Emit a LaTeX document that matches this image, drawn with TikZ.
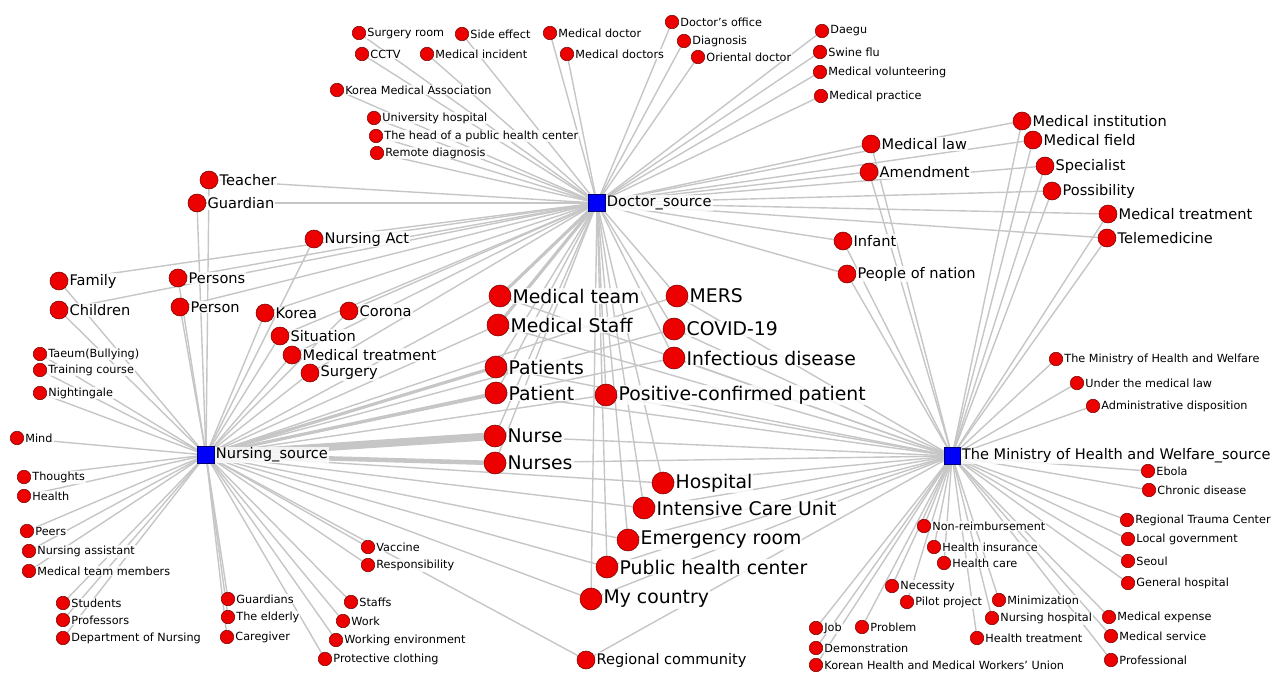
\documentclass[tikz,border=0pt]{standalone}
\usepackage{fontspec}
\setmainfont{DejaVu Sans}
\usetikzlibrary{backgrounds}
\definecolor{nodered}{RGB}{236,0,0}
\definecolor{srcblue}{RGB}{0,0,248}
\definecolor{edgegray}{RGB}{198,198,198}

\begin{document}
\begin{tikzpicture}[x=0.02cm,y=-0.02cm,label distance=0pt,
  src/.style={rectangle,draw=srcblue!45!black,fill=srcblue,minimum size=0.33cm,
    inner sep=0pt,line width=.3pt},
  wsmall/.style={circle,draw=nodered!50!black,fill=nodered,minimum size=0.27cm,
    inner sep=0pt,line width=.3pt},
  wmid/.style={wsmall,minimum size=0.36cm},
  wbig/.style={wsmall,minimum size=0.44cm},
  lsmall/.style={font=\fontsize{6.4}{7}\selectfont,inner sep=.6pt,fill=white,
    fill opacity=.8,text opacity=1},
  lmid/.style={lsmall,font=\fontsize{8.3}{9.5}\selectfont},
  lbig/.style={lsmall,font=\fontsize{10.7}{12}\selectfont},
  link/.style={draw=edgegray,line width=.8pt}]
\useasboundingbox (0,0) rectangle (1273,672);

% sources
\node[src,label={[lmid]right:Doctor\_source}] (doc) at (597,203) {};
\node[src,label={[lmid]right:Nursing\_source}] (nur) at (206,455) {};
\node[src,label={[lmid]right:The Ministry of Health and Welfare\_source}] (mohw) at (952,456) {};

% words around Doctor_source
\node[wsmall,label={[lsmall]right:Surgery room}] (surgroom) at (359,33) {};
\node[wsmall,label={[lsmall]right:Side effect}] (sideeff) at (462,34) {};
\node[wsmall,label={[lsmall]right:Medical doctor}] (meddoc) at (550,33) {};
\node[wsmall,label={[lsmall]right:CCTV}] (cctv) at (362,54) {};
\node[wsmall,label={[lsmall]right:Medical incident}] (medinc) at (427,54) {};
\node[wsmall,label={[lsmall]right:Medical doctors}] (meddocs) at (567,54) {};
\node[wsmall,label={[lsmall]right:Doctor's office}] (docoffice) at (672,22) {};
\node[wsmall,label={[lsmall]right:Diagnosis}] (diagnosis) at (684,41) {};
\node[wsmall,label={[lsmall]right:Oriental doctor}] (oriental) at (698,57) {};
\node[wsmall,label={[lsmall]right:Daegu}] (daegu) at (822,31) {};
\node[wsmall,label={[lsmall]right:Swine flu}] (swineflu) at (820,52) {};
\node[wsmall,label={[lsmall]right:Medical volunteering}] (medvol) at (820,72) {};
\node[wsmall,label={[lsmall]right:Medical practice}] (medprac) at (821,96) {};
\node[wsmall,label={[lsmall]right:Korea Medical Association}] (kma) at (337,90) {};
\node[wsmall,label={[lsmall]right:University hospital}] (univhosp) at (374,118) {};
\node[wsmall,label={[lsmall]right:The head of a public health center}] (headphc) at (376,136) {};
\node[wsmall,label={[lsmall]right:Remote diagnosis}] (remdiag) at (377,153) {};

% shared by Doctor_source and the Ministry
\node[wmid,label={[lmid]right:Medical law}] (medlaw) at (871,144) {};
\node[wmid,label={[lmid]right:Amendment}] (amend) at (869,172) {};
\node[wmid,label={[lmid]right:Medical institution}] (medinst) at (1022,121) {};
\node[wmid,label={[lmid]right:Medical field}] (medfield) at (1033,140) {};
\node[wmid,label={[lmid]right:Specialist}] (specialist) at (1045,166) {};
\node[wmid,label={[lmid]right:Possibility}] (possib) at (1052,191) {};
\node[wmid,label={[lmid]right:Medical treatment}] (medtreatr) at (1108,214) {};
\node[wmid,label={[lmid]right:Telemedicine}] (telemed) at (1107,238) {};
\node[wmid,label={[lmid]right:Infant}] (infant) at (843,241) {};
\node[wmid,label={[lmid]right:People of nation}] (people) at (847,274) {};

% shared by Doctor_source and Nursing_source
\node[wmid,label={[lmid]right:Teacher}] (teacher) at (209,180) {};
\node[wmid,label={[lmid]right:Guardian}] (guardian) at (197,203) {};
\node[wmid,label={[lmid]right:Nursing Act}] (nursact) at (314,239) {};
\node[wmid,label={[lmid]right:Family}] (family) at (59,281) {};
\node[wmid,label={[lmid]right:Children}] (children) at (59,310) {};
\node[wmid,label={[lmid]right:Persons}] (persons) at (178,278) {};
\node[wmid,label={[lmid]right:Person}] (person) at (180,307) {};
\node[wmid,label={[lmid]right:Korea}] (korea) at (265,313) {};
\node[wmid,label={[lmid]right:Corona}] (corona) at (349,311) {};
\node[wmid,label={[lmid]right:Situation}] (situation) at (280,336) {};
\node[wmid,label={[lmid]right:Medical treatment}] (medtreatl) at (292,355) {};
\node[wmid,label={[lmid]right:Surgery}] (surgery) at (310,373) {};

% shared by all three
\node[wbig,label={[lbig]right:Medical team}] (medteam) at (500,296) {};
\node[wbig,label={[lbig]right:Medical Staff}] (medstaff) at (498,325) {};
\node[wbig,label={[lbig]right:Patients}] (patients) at (496,367) {};
\node[wbig,label={[lbig]right:Patient}] (patient) at (496,393) {};
\node[wbig,label={[lbig]right:Nurse}] (nurse) at (495,436) {};
\node[wbig,label={[lbig]right:Nurses}] (nurses) at (495,463) {};
\node[wbig,label={[lbig]right:MERS}] (mers) at (677,296) {};
\node[wbig,label={[lbig]right:COVID-19}] (covid) at (674,329) {};
\node[wbig,label={[lbig]right:Infectious disease}] (infect) at (674,358) {};
\node[wbig,label={[lbig]right:Positive-confirmed patient}] (positive) at (606,395) {};
\node[wbig,label={[lbig]right:Hospital}] (hospital) at (663,483) {};
\node[wbig,label={[lbig]right:Intensive Care Unit}] (icu) at (644,508) {};
\node[wbig,label={[lbig]right:Emergency room}] (er) at (628,540) {};
\node[wbig,label={[lbig]right:Public health center}] (phc) at (607,567) {};
\node[wbig,label={[lbig]right:My country}] (country) at (591,599) {};
\node[wmid,label={[lmid]right:Regional community}] (regional) at (586,660) {};

% words around Nursing_source
\node[wsmall,label={[lsmall]right:Taeum(Bullying)}] (taeum) at (40,354) {};
\node[wsmall,label={[lsmall]right:Training course}] (training) at (40,370) {};
\node[wsmall,label={[lsmall]right:Nightingale}] (nightingale) at (40,393) {};
\node[wsmall,label={[lsmall]right:Mind}] (mind) at (17,438) {};
\node[wsmall,label={[lsmall]right:Thoughts}] (thoughts) at (24,477) {};
\node[wsmall,label={[lsmall]right:Health}] (health) at (24,496) {};
\node[wsmall,label={[lsmall]right:Peers}] (peers) at (27,531) {};
\node[wsmall,label={[lsmall]right:Nursing assistant}] (nursassist) at (29,551) {};
\node[wsmall,label={[lsmall]right:Medical team members}] (medteammem) at (29,571) {};
\node[wsmall,label={[lsmall]right:Students}] (students) at (63,603) {};
\node[wsmall,label={[lsmall]right:Professors}] (professors) at (63,620) {};
\node[wsmall,label={[lsmall]right:Department of Nursing}] (deptnurs) at (63,638) {};
\node[wsmall,label={[lsmall]right:Guardians}] (guardians) at (228,599) {};
\node[wsmall,label={[lsmall]right:The elderly}] (elderly) at (228,617) {};
\node[wsmall,label={[lsmall]right:Caregiver}] (caregiver) at (227,637) {};
\node[wsmall,label={[lsmall]right:Vaccine}] (vaccine) at (368,547) {};
\node[wsmall,label={[lsmall]right:Responsibility}] (respons) at (368,565) {};
\node[wsmall,label={[lsmall]right:Staffs}] (staffs) at (351,602) {};
\node[wsmall,label={[lsmall]right:Work}] (work) at (343,621) {};
\node[wsmall,label={[lsmall]right:Working environment}] (workenv) at (336,640) {};
\node[wsmall,label={[lsmall]right:Protective clothing}] (protect) at (325,659) {};

% words around the Ministry
\node[wsmall,label={[lsmall]right:The Ministry of Health and Welfare}] (mohwword) at (1056,359) {};
\node[wsmall,label={[lsmall]right:Under the medical law}] (undermedlaw) at (1077,383) {};
\node[wsmall,label={[lsmall]right:Administrative disposition}] (admindisp) at (1093,406) {};
\node[wsmall,label={[lsmall]right:Ebola}] (ebola) at (1148,471) {};
\node[wsmall,label={[lsmall]right:Chronic disease}] (chronic) at (1149,490) {};
\node[wsmall,label={[lsmall]right:Regional Trauma Center}] (trauma) at (1127,520) {};
\node[wsmall,label={[lsmall]right:Local government}] (localgov) at (1128,539) {};
\node[wsmall,label={[lsmall]right:Seoul}] (seoul) at (1128,561) {};
\node[wsmall,label={[lsmall]right:General hospital}] (genhosp) at (1128,583) {};
\node[wsmall,label={[lsmall]right:Non-reimbursement}] (nonreimb) at (924,526) {};
\node[wsmall,label={[lsmall]right:Health insurance}] (healthins) at (934,547) {};
\node[wsmall,label={[lsmall]right:Health care}] (healthcare) at (944,563) {};
\node[wsmall,label={[lsmall]right:Necessity}] (necessity) at (892,586) {};
\node[wsmall,label={[lsmall]right:Pilot project}] (pilot) at (907,602) {};
\node[wsmall,label={[lsmall]right:Minimization}] (minim) at (999,600) {};
\node[wsmall,label={[lsmall]right:Nursing hospital}] (nurshosp) at (992,618) {};
\node[wsmall,label={[lsmall]right:Health treatment}] (healthtreat) at (977,638) {};
\node[wsmall,label={[lsmall]right:Medical expense}] (medexp) at (1109,617) {};
\node[wsmall,label={[lsmall]right:Medical service}] (medserv) at (1111,636) {};
\node[wsmall,label={[lsmall]right:Professional}] (professional) at (1111,660) {};
\node[wsmall,label={[lsmall]right:Job}] (job) at (816,628) {};
\node[wsmall,label={[lsmall]right:Problem}] (problem) at (862,627) {};
\node[wsmall,label={[lsmall]right:Demonstration}] (demo) at (816,648) {};
\node[wsmall,label={[lsmall]right:Korean Health and Medical Workers' Union}] (union) at (816,665) {};

\begin{scope}[on background layer]
\foreach \w in {surgroom,sideeff,meddoc,cctv,medinc,meddocs,docoffice,diagnosis,
  oriental,daegu,swineflu,medvol,medprac,kma,univhosp,headphc,remdiag,
  medlaw,amend,medinst,medfield,specialist,possib,medtreatr,telemed,infant,people,
  teacher,guardian,nursact,family,children,persons,person,korea,corona,situation,
  medtreatl,surgery,patients,patient,nurse,nurses,mers,covid,infect,positive,
  hospital,icu,er,phc,country}
  \draw[link] (doc) -- (\w);
\draw[link,line width=1.8pt] (doc) -- (medteam);
\draw[link,line width=1.8pt] (doc) -- (medstaff);
\foreach \w in {teacher,guardian,nursact,family,children,persons,person,korea,
  corona,situation,medtreatl,surgery,medteam,medstaff,mers,covid,infect,positive,
  hospital,icu,er,phc,country,regional,taeum,training,nightingale,mind,thoughts,
  health,peers,nursassist,medteammem,students,professors,deptnurs,guardians,
  elderly,caregiver,vaccine,respons,staffs,work,workenv,protect}
  \draw[link] (nur) -- (\w);
\draw[link,line width=4.5pt] (nur) -- (nurse);
\draw[link,line width=2.6pt] (nur) -- (nurses);
\draw[link,line width=1.8pt] (nur) -- (patients);
\draw[link,line width=1.8pt] (nur) -- (patient);
\foreach \w in {medlaw,amend,medinst,medfield,specialist,possib,medtreatr,telemed,
  infant,people,medteam,medstaff,patients,patient,nurse,nurses,mers,covid,infect,
  positive,hospital,icu,er,phc,country,regional,mohwword,undermedlaw,admindisp,
  ebola,chronic,trauma,localgov,seoul,genhosp,nonreimb,healthins,healthcare,
  necessity,pilot,minim,nurshosp,healthtreat,medexp,medserv,professional,job,
  problem,demo,union}
  \draw[link] (mohw) -- (\w);
\end{scope}
\end{tikzpicture}
\end{document}
